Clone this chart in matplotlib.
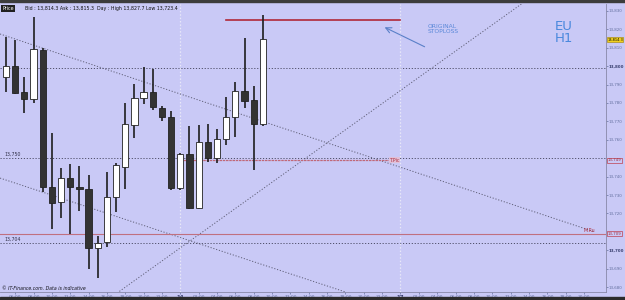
import numpy as np
import matplotlib.pyplot as plt
from matplotlib.patches import Rectangle

# EUR H1 candles, 13th 05:00 -> 14th 09:00 (one per hour)
opens = [13794.3, 13800.3, 13786.0, 13782.2, 13808.8, 13734.3, 13726.2, 13739.2, 13734.3, 13733.3,
         13701.2, 13704.5, 13728.9, 13745.2, 13768.0, 13782.7, 13786.0, 13777.3, 13772.4, 13733.8,
         13752.3, 13722.9, 13758.8, 13750.1, 13760.4, 13772.4, 13786.5, 13781.6, 13768.6]
highs = [13815.9, 13814.2, 13794.1, 13826.7, 13809.9, 13763.7, 13744.7, 13746.8, 13745.8, 13740.9,
         13707.7, 13742.5, 13747.4, 13780.0, 13790.3, 13799.6, 13798.5, 13778.4, 13775.7, 13752.8,
         13767.5, 13768.0, 13768.6, 13765.9, 13783.3, 13791.4, 13815.3, 13789.2, 13827.8]
lows = [13786.0, 13784.9, 13774.6, 13780.0, 13731.6, 13711.5, 13717.5, 13708.8, 13721.3, 13689.8,
        13684.9, 13701.7, 13720.8, 13733.3, 13761.0, 13779.5, 13776.2, 13770.2, 13732.7, 13732.7,
        13722.4, 13722.4, 13747.9, 13747.4, 13757.2, 13761.5, 13777.3, 13743.6, 13767.5]
closes = [13800.1, 13785.6, 13782.2, 13809.3, 13734.3, 13725.7, 13739.2, 13734.3, 13733.3, 13701.2,
          13703.9, 13728.9, 13746.3, 13768.6, 13782.7, 13786.0, 13777.8, 13772.4, 13733.8, 13752.3,
          13722.9, 13758.8, 13750.1, 13760.4, 13772.4, 13786.5, 13781.1, 13768.6, 13814.8]

# horizontal levels
dotted_levels = [13799, 13750, 13704]
stoploss = 13825
stoploss_span = [24, 43]
tpic = 13749
tpic_span = [19, 41.7]
mru = 13709
bid = 13814.3
day_starts = [19, 43]

# trend lines (x = hour index, y = price)
trend_a_x, trend_a_y = [-0.65, 64.2], [13817.5, 13709.9]
trend_b_x, trend_b_y = [-0.65, 37.0], [13739.2, 13677.3]
trend_c_x, trend_c_y = [12.1, 56.8], [13676.7, 13836.0]

xticks = list(range(1, 64, 2))
xlabels = ['06:00', '08:00', '10:00', '12:00', '14:00', '16:00', '18:00', '20:00', '22:00', '14',
           '02:00', '04:00', '06:00', '08:00', '10:00', '12:00', '14:00', '16:00', '18:00', '20:00',
           '22:00', '17', '02:00', '04:00', '06:00', '08:00', '10:00', '12:00', '14:00', '16:00',
           '18:00', '20:00']
yticks = [13680, 13690, 13700, 13720, 13730, 13740, 13760, 13770, 13780, 13790, 13800, 13810, 13820, 13830]

bg = '#c9c9f6'
fig = plt.figure(figsize=(6.25, 3), dpi=100, facecolor=bg)
ax = fig.add_axes([0, 0.0267, 0.9696, 0.96], facecolor=bg)
ax.set_xlim(-0.654, 65.4)
ax.set_ylim(13677.3, 13833.8)

# grid-ish levels
for lv in dotted_levels:
    ax.axhline(lv, color='#50506a', lw=0.7, ls=(0, (1.2, 1.8)), zorder=1)
for d in day_starts:
    ax.axvline(d, color='#e8e8f8', lw=0.9, ls=(0, (1.2, 1.5)), zorder=1)
for tx, ty in [(trend_a_x, trend_a_y), (trend_b_x, trend_b_y), (trend_c_x, trend_c_y)]:
    ax.plot(tx, ty, color='#606078', lw=0.7, ls=(0, (1.2, 1.8)), zorder=1)

ax.axhline(mru, color='#c07080', lw=0.8, zorder=1)
ax.plot(stoploss_span, [stoploss, stoploss], color='#b02838', lw=1.2, zorder=1)
ax.plot(tpic_span, [tpic, tpic], color='#c06878', lw=0.9, ls=(0, (2, 0.6)), zorder=1)

# candles
idx = np.arange(len(opens))
o = np.array(opens)
c = np.array(closes)
up = c >= o
ax.vlines(idx, lows, highs, color='#1e1e1e', lw=1.2, zorder=2)
bottoms = np.minimum(o, c)
heights = np.maximum(np.abs(c - o), 0.8)
ax.bar(idx, heights, bottom=bottoms, width=0.68,
       color=np.where(up, '#ffffff', '#333333'), edgecolor='#222222', lw=0.6, zorder=3)

# axes styling
for s in ['top', 'left']:
    ax.spines[s].set_visible(False)
ax.spines['right'].set_color('#8888a8')
ax.spines['bottom'].set_color('#8888a8')
ax.spines['right'].set_linewidth(0.6)
ax.spines['bottom'].set_linewidth(0.6)
ax.yaxis.tick_right()
ax.set_yticks(yticks)
ax.set_yticklabels(['{:,}'.format(v) for v in yticks])
ax.tick_params(axis='y', labelsize=2.9, colors='#6470a0', length=1.5, width=0.5, pad=0.6)
for lbl in ax.get_yticklabels():
    if lbl.get_text() in ('13,800', '13,700'):
        lbl.set_fontweight('bold')
        lbl.set_color('#3a4070')
ax.set_xticks(xticks)
ax.set_xticklabels(xlabels)
ax.tick_params(axis='x', labelsize=3.2, colors='#6470a0', length=1.5, width=0.5, pad=0.5)
for lbl in ax.get_xticklabels():
    if lbl.get_text() in ('14', '17'):
        lbl.set_fontweight('bold')
        lbl.set_color('#3a4070')
        lbl.set_fontsize(4)

# right axis markers
yt = ax.get_yaxis_transform()
ax.text(1.002, bid, '13,814.3', transform=yt, fontsize=2.5, va='center', ha='left',
        bbox=dict(boxstyle='square,pad=0.12', fc='#f0d020', ec='#a08000', lw=0.4), clip_on=False)
for lv, t in [(tpic, '13,749'), (mru, '13,709')]:
    ax.text(1.003, lv, t, transform=yt, fontsize=2.8, va='center', ha='left', color='#a03040',
            bbox=dict(boxstyle='square,pad=0.12', fc=bg, ec='#c04050', lw=0.5), clip_on=False)

# level labels
ax.text(0.007, 13750.8, '13,750', transform=yt, fontsize=3.4, color='#303048', va='bottom')
ax.text(0.007, 13704.8, '13,704', transform=yt, fontsize=3.4, color='#303048', va='bottom')
ax.text(41.8, tpic, 'T.Pic', fontsize=3.4, color='#b03040', va='center',
        bbox=dict(boxstyle='square,pad=0.1', fc='#e0c0d8', ec='none'))
ax.text(63.0, mru + 0.6, 'M.Ru', fontsize=3.4, color='#b03040', va='bottom')

# annotations
ax.annotate('', xy=(41.0, 13821.8), xytext=(45.9, 13809.9),
            arrowprops=dict(arrowstyle='->', color='#5a80c8', lw=0.8))
ax.text(0.706, 0.93, 'ORIGINAL\nSTOPLOSS', transform=ax.transAxes, fontsize=4.3, color='#5a88d8',
        va='top', ha='left', linespacing=0.95)
ax.text(0.93, 0.945, 'EU\nH1', transform=ax.transAxes, fontsize=9.5, color='#4a88dd',
        va='top', ha='center', linespacing=0.95)

# header / footer
fig.text(0.004, 0.972, 'Price', fontsize=3.4, color='white', va='center',
         bbox=dict(boxstyle='square,pad=0.25', fc='#202020', ec='none'))
fig.text(0.04, 0.972, 'Bid : 13,814.3 Ask : 13,815.3  Day : High 13,827.7 Low 13,723.4',
         fontsize=3.4, color='#101010', va='center')
fig.text(0.004, 0.04, '\u00a9 IT-Finance.com. Data is indicative', fontsize=3.3,
         color='#101018', style='italic', va='center')

fig.patches.append(Rectangle((0, 0.993), 1, 0.007, transform=fig.transFigure, color='#3c3c3c'))
fig.patches.append(Rectangle((0, 0), 1, 0.009, transform=fig.transFigure, color='#2c2c2c'))

plt.savefig('out.png', dpi=100, facecolor=bg)
